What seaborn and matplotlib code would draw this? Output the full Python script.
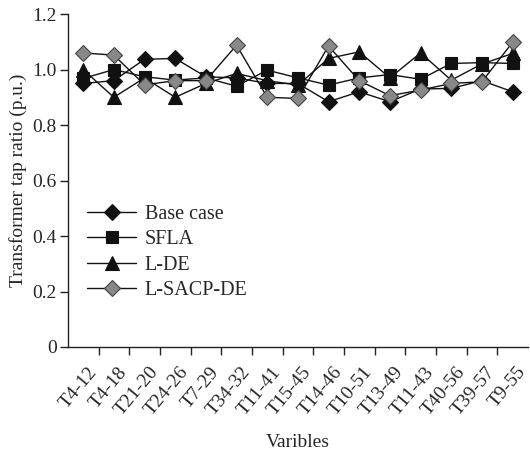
import numpy as np
import pandas as pd
import seaborn as sns
import matplotlib
matplotlib.use('Agg')
import matplotlib.pyplot as plt
from matplotlib.transforms import ScaledTranslation

variables = ['T4-12', 'T4-18', 'T21-20', 'T24-26', 'T7-29', 'T34-32', 'T11-41', 'T15-45',
             'T14-46', 'T10-51', 'T13-49', 'T11-43', 'T40-56', 'T39-57', 'T9-55']
base_case = [0.95, 0.96, 1.037, 1.04, 0.974, 0.97, 0.95, 0.95, 0.884, 0.92, 0.884, 0.93, 0.932, 0.96, 0.92]
sfla = [0.968, 1.0, 0.974, 0.962, 0.97, 0.94, 0.998, 0.97, 0.944, 0.97, 0.982, 0.965, 1.022, 1.025, 1.022]
l_de = [1.0, 0.90, 0.97, 0.90, 0.95, 0.986, 0.96, 0.944, 1.04, 1.064, 0.97, 1.06, 0.962, 1.02, 1.058]
l_sacp_de = [1.06, 1.052, 0.945, 0.96, 0.96, 1.088, 0.90, 0.896, 1.085, 0.96, 0.906, 0.926, 0.95, 0.956, 1.098]

sns.set_theme(style='ticks')
plt.rcParams['font.family'] = ['Liberation Serif', 'DejaVu Serif']
plt.rcParams['font.size'] = 14

df = pd.DataFrame({'idx': np.arange(len(variables)), 'Base case': base_case, 'SFLA': sfla,
                   'L-DE': l_de, 'L-SACP-DE': l_sacp_de})

fig = plt.figure(figsize=(5.3, 4.54), dpi=100)
ax = fig.add_axes([0.128, 0.2357, 0.868, 0.7333])

styles = [('Base case', 'D', 8.5, '#111111', '#111111'),
          ('SFLA', 's', 8.5, '#111111', '#111111'),
          ('L-DE', '^', 9.5, '#111111', '#111111'),
          ('L-SACP-DE', 'D', 8.5, '#888888', '#444444')]
for name, mk, ms, fc, ec in styles:
    sns.lineplot(data=df, x='idx', y=name, ax=ax, color='#111111', linewidth=1.0,
                 marker=mk, markersize=ms, markerfacecolor=fc, markeredgecolor=ec,
                 markeredgewidth=0.8, label=name)

ax.set_xlim(-0.5, 14.5)
ax.set_ylim(0, 1.2)
ax.set_yticks([0, 0.2, 0.4, 0.6, 0.8, 1.0, 1.2])
ax.set_yticklabels(['0', '0.2', '0.4', '0.6', '0.8', '1.0', '1.2'], fontsize=14)
ax.set_xticks(np.arange(len(variables)))
ax.set_xticklabels(variables, rotation=50, ha='right', rotation_mode='anchor', fontsize=14)
ax.set_xticks(np.arange(0.5, 14.5, 1.0), minor=True)
ax.tick_params(axis='x', which='major', length=0, pad=4)
ax.tick_params(axis='x', which='minor', length=6, width=1, color='#222222', direction='out')
ax.tick_params(axis='y', length=6, width=1, color='#222222', direction='out', pad=2)
shift = ScaledTranslation(4 / 100, -11 / 100, fig.dpi_scale_trans)
for lbl in ax.get_xticklabels():
    lbl.set_transform(lbl.get_transform() + shift)
ax.set_xlabel('Varibles', fontsize=14, labelpad=11)
ax.set_ylabel('Transformer tap ratio (p.u.)', fontsize=14, labelpad=4)
for s in ['top', 'right']:
    ax.spines[s].set_visible(False)
for s in ['left', 'bottom']:
    ax.spines[s].set_color('#222222')
    ax.spines[s].set_linewidth(1.0)

ax.legend(loc='upper left', bbox_to_anchor=(0.025, 0.45), frameon=False, fontsize=14.5,
          handlelength=2.4, handletextpad=0.45, labelspacing=0.3, borderaxespad=0)

fig.savefig('out.png', dpi=100)
